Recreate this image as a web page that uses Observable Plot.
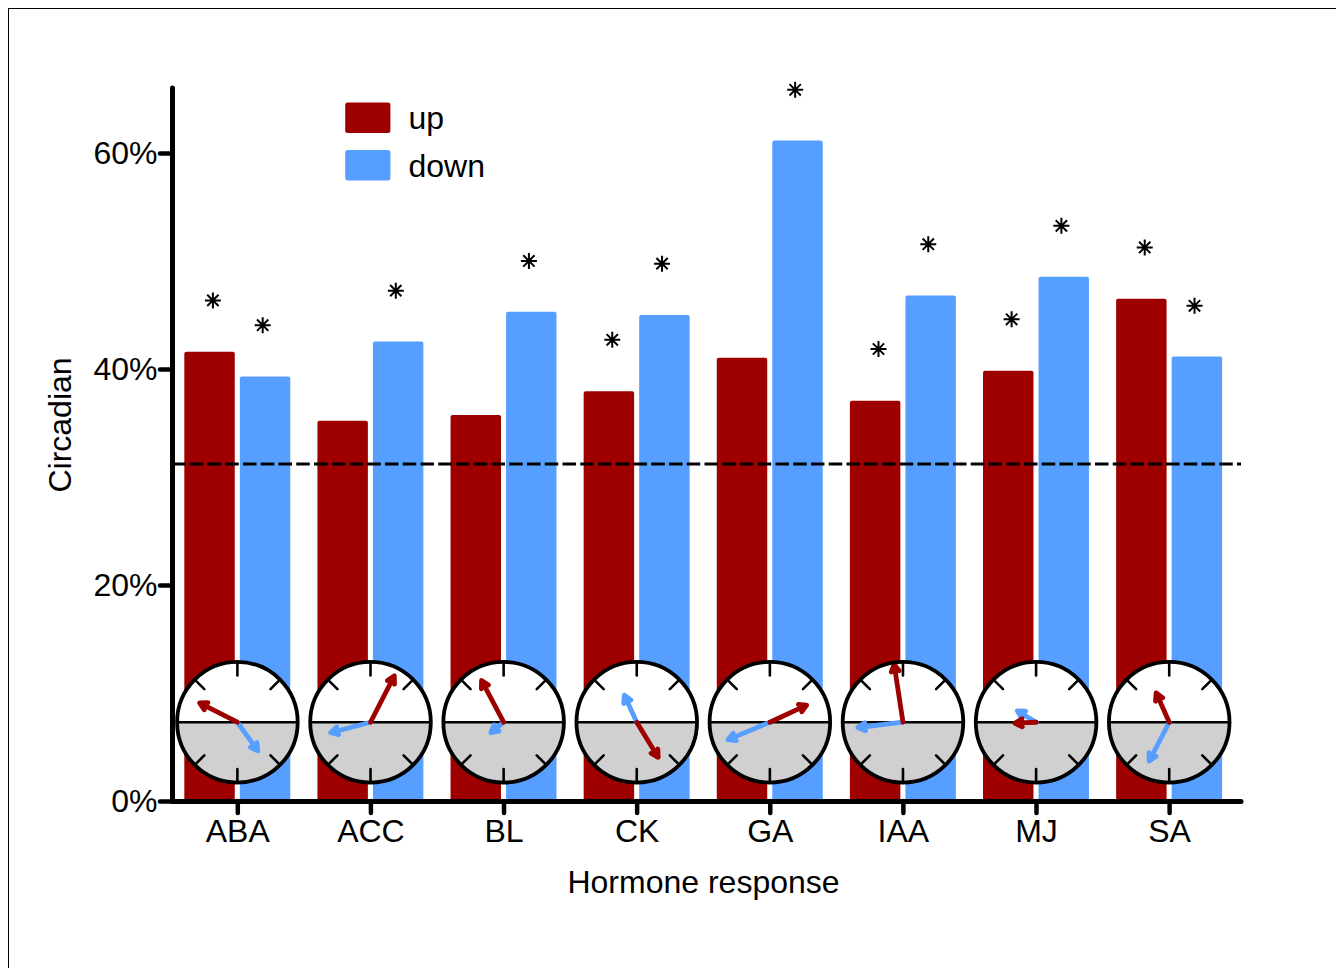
<!DOCTYPE html>
<html>
<head>
<meta charset="utf-8">
<script src="https://cdn.jsdelivr.net/npm/d3@7"></script>
<script src="https://cdn.jsdelivr.net/npm/@observablehq/plot@0.6"></script>
<style>
  html, body { margin: 0; padding: 0; background: #fff; overflow: hidden; }
  #wrap { position: relative; width: 1336px; height: 968px; }
  #wrap svg { position: absolute; left: 0; top: 0; }
  #border { position: absolute; left: 8px; top: 8px; right: 0; bottom: 0; border-left: 1px solid #000; border-top: 1px solid #000; }
</style>
</head>
<body>
<div id="wrap"><div id="border"></div></div>
<script>
const hormones = ["ABA", "ACC", "BL", "CK", "GA", "IAA", "MJ", "SA"];
const upValues = [41.6, 35.2, 35.75, 37.95, 41.05, 37.05, 39.85, 46.5];
const downValues = [39.3, 42.55, 45.3, 45.0, 61.15, 46.8, 48.55, 41.15];
const upStars = [46.4, null, null, 42.75, null, 41.9, 44.65, 51.3];
const downStars = [44.1, 47.3, 50.05, 49.8, 65.9, 51.6, 53.3, 45.9];
const upPhase = [19.8, 1.81, 22.14, 9.91, 4.33, 23.42, 17.83, 22.41];
const downPhase = [9.63, 17.02, 15.38, 22.36, 16.49, 17.55, 20.08, 13.82];
const upMagnitude = [0.74, 0.90, 0.82, 0.72, 0.71, 1.01, 0.39, 0.57];
const downMagnitude = [0.62, 0.72, 0.31, 0.53, 0.79, 0.79, 0.40, 0.76];
const baseline = 31.25;
const clockTicks = [0, 3, 9, 12, 15, 21];
const yTicks = [0, 20, 40, 60];

const RED = "#9E0000", BLUE = "#569EFF", GREY = "#D0D0D0";
const FONT = 32;
const R = 60.3;
const clockY = 7.34;
const clockX = i => i - 0.003;
const gap = 0.019, barW = 0.379, starOff = 0.187;

const idx = hormones.map((_, i) => i);
const hourDeg = h => h * 15;

// custom shapes
const halfDisk = {draw(c, s) { const r = Math.sqrt(s / Math.PI); c.moveTo(-r, 0); c.arc(0, 0, r, Math.PI, 0, true); c.closePath(); }};
const horizon = {draw(c, s) { const r = Math.sqrt(s / Math.PI); c.moveTo(-r, 0); c.lineTo(r, 0); }};
const star8 = {draw(c, s) {
  const r = Math.sqrt(s / Math.PI);
  for (let k = 0; k < 4; k++) {
    const a = k * Math.PI / 4, x = r * Math.cos(a), y = r * Math.sin(a);
    c.moveTo(-x, -y); c.lineTo(x, y);
  }
}};
const swatch = {draw(c) {
  const w = 22.6, h = 15.3, q = 2.5;
  c.moveTo(-w + q, -h); c.lineTo(w - q, -h); c.arcTo(w, -h, w, -h + q, q);
  c.lineTo(w, h - q); c.arcTo(w, h, w - q, h, q);
  c.lineTo(-w + q, h); c.arcTo(-w, h, -w, h - q, q);
  c.lineTo(-w, -h + q); c.arcTo(-w, -h, -w + q, -h, q); c.closePath();
}};
const tickShape = {draw(c, l) { c.moveTo(0, -l); c.lineTo(0, -l + 13.5); }};
const arrowShape = {draw(c, l) {
  const b = 9.5, n = 7;
  c.moveTo(0, 0); c.lineTo(0, -(l - n));
  c.moveTo(0, -(l - 2.2)); c.lineTo(4, -(l - b)); c.lineTo(0, -(l - n)); c.lineTo(-4, -(l - b)); c.closePath();
}};

const arrows = (phase, mag, color) => Plot.vector(idx, {
  x: clockX, y: () => clockY,
  rotate: i => hourDeg(phase[i]),
  length: i => Math.max(mag[i] * R, 10),
  anchor: "start", shape: arrowShape,
  stroke: color, fill: color, strokeWidth: 4.8, strokeLinejoin: "round", strokeLinecap: "round"
});

const chart = Plot.plot({
  width: 1336, height: 968,
  marginLeft: 172, marginRight: 95, marginTop: 88, marginBottom: 167,
  x: {domain: [-0.4905, 7.54]},
  y: {domain: [0, 66.02]},
  length: {type: "identity"},
  style: {fontFamily: "'Liberation Sans', Arial, sans-serif", background: "transparent", color: "#000"},
  marks: [
    Plot.rectY(idx, {x1: i => i - gap - barW, x2: i => i - gap, y1: 0, y2: i => upValues[i], fill: RED, r: 2}),
    Plot.rectY(idx, {x1: i => i + gap, x2: i => i + gap + barW, y1: 0, y2: i => downValues[i], fill: BLUE, r: 2}),
    Plot.ruleY([baseline], {stroke: "#000", strokeWidth: 3, strokeDasharray: "13.5,4.25"}),
    Plot.dot(idx, {x: i => i - starOff, y: i => upStars[i], r: 8, symbol: star8, stroke: "#000", fill: "none", strokeWidth: 2}),
    Plot.dot(idx, {x: i => i + starOff, y: i => downStars[i], r: 8, symbol: star8, stroke: "#000", fill: "none", strokeWidth: 2}),
    // clocks
    Plot.dot(idx, {x: clockX, y: () => clockY, r: R, fill: "#fff", stroke: "none"}),
    Plot.dot(idx, {x: clockX, y: () => clockY, r: R, symbol: halfDisk, fill: GREY, stroke: "none"}),
    Plot.vector(idx.flatMap(i => clockTicks.map(h => ({i, h}))), {
      x: d => clockX(d.i), y: () => clockY, rotate: d => hourDeg(d.h), length: () => R, anchor: "start",
      shape: tickShape, stroke: "#000", strokeWidth: 2.6
    }),
    Plot.dot(idx, {x: clockX, y: () => clockY, r: R, symbol: horizon, stroke: "#000", fill: "none", strokeWidth: 2.6}),
    arrows(downPhase, downMagnitude, BLUE),
    arrows(upPhase, upMagnitude, RED),
    Plot.dot(idx, {x: clockX, y: () => clockY, r: R, fill: "none", stroke: "#000", strokeWidth: 3.8}),
    // axes
    Plot.axisY({ticks: yTicks, tickFormat: d => d + "%", tickSize: 12, tickPadding: 3, fontSize: FONT, label: null, strokeWidth: 4.5, strokeLinecap: "round"}),
    Plot.axisX({ticks: idx, tickFormat: i => hormones[i], tickSize: 12, tickPadding: 6, fontSize: FONT, label: null, strokeWidth: 4.5, strokeLinecap: "round"}),
    Plot.ruleX([-0.4905], {stroke: "#000", strokeWidth: 5, strokeLinecap: "round"}),
    Plot.ruleY([0], {stroke: "#000", strokeWidth: 5, strokeLinecap: "round"}),
    // axis titles
    Plot.text(["Hormone response"], {frameAnchor: "bottom", dx: -3.5, dy: 91, fontSize: FONT, fill: "#000", lineAnchor: "bottom"}),
    Plot.text(["Circadian"], {frameAnchor: "left", textAnchor: "middle", dx: -112, dy: -20, rotate: -90, fontSize: FONT, fill: "#000"}),
    // legend
    Plot.dot(["up"], {frameAnchor: "top-left", dx: 195.3, dy: 29.3, r: 10, symbol: swatch, fill: RED, stroke: "none"}),
    Plot.dot(["down"], {frameAnchor: "top-left", dx: 195.3, dy: 76.7, r: 10, symbol: swatch, fill: BLUE, stroke: "none"}),
    Plot.text(["up"], {frameAnchor: "top-left", dx: 236, dy: 18, textAnchor: "start", fontSize: FONT, fill: "#000"}),
    Plot.text(["down"], {frameAnchor: "top-left", dx: 236, dy: 66, textAnchor: "start", fontSize: FONT, fill: "#000"})
  ]
});
document.getElementById("wrap").appendChild(chart);
</script>
</body>
</html>
